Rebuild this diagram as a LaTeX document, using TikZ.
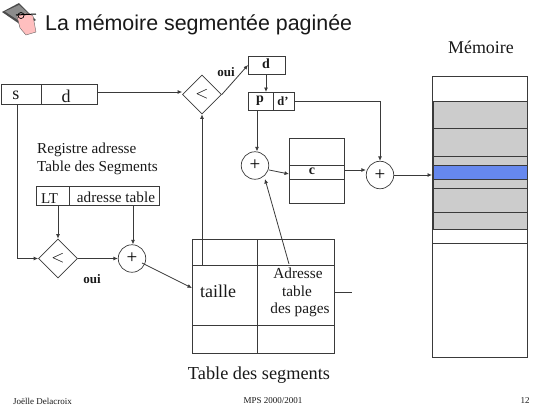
\documentclass[tikz,border=0pt]{standalone}
\usepackage{fontspec}
\setmainfont{Liberation Serif}
\newfontfamily\titlefont{Liberation Sans}
\usetikzlibrary{shapes.geometric,arrows.meta}
\newcommand{\fs}[1]{\fontsize{#1}{#1}\selectfont}
\definecolor{ln}{HTML}{3A3A3A}
\definecolor{grayfill}{HTML}{CCCCCC}
\definecolor{bluefill}{HTML}{6688EE}
\tikzset{
 cell/.style={draw=ln,line width=0.8pt,rectangle,minimum width=#1,inner sep=0pt,outer sep=0pt,anchor=north west},
 lbl/.style={inner sep=0pt,text=black!90},
 plusc/.style={draw=ln,line width=0.7pt,circle,minimum size=27.5pt,inner sep=0pt,font=\fs{19}},
 cmp/.style={draw=ln,line width=0.7pt,diamond,minimum width=39pt,minimum height=39pt,inner sep=0pt,font=\fs{18}},
 arr/.style={draw=ln,line width=0.8pt,-{Latex[length=4.5pt,width=4pt]}},
 lin/.style={draw=ln,line width=0.8pt},
}
\begin{document}
\begin{tikzpicture}[x=1pt,y=-1pt]
\useasboundingbox (0,0) rectangle (550,413);
% icon
\fill[black!70] (2,12) -- (19,3) -- (36,20) -- (24,27) -- cycle;
\fill[black!45] (5,11.5) -- (19,5) -- (32,17) -- (24,24) -- cycle;
\fill[red!25!white,draw=black!60,line width=0.4pt] (17,16) .. controls (19,13) and (30,12) .. (33,16) -- (36,32) -- (26,35) -- (20,28) -- cycle;
\draw[black,line width=1pt] (16,15) -- (36,14);
\draw[black,line width=0.7pt] (21,15.5) circle (3);
% title
\node[lbl,anchor=west,font=\titlefont\fs{21.4}] (title) at (45,25) {La mémoire segmentée paginée};
\node[lbl,font=\fs{17.9}] (memt) at (481,47) {Mémoire};
% memory
\node[cell=95pt,minimum height=281pt] (mem) at (432,76) {};
\fill[grayfill] (434,101) rectangle (527,229);
\draw[lin,draw=ln,line width=1.4pt] (433,101) -- (433,229);
\fill[bluefill] (434,165) rectangle (527,179);
\draw[lin] (mem.north east) -- (mem.south east);
\foreach \yy in {101,128.5,156,165,179,188,212,229,243}{\draw[lin] (432,\yy) -- (527,\yy);}
% register s d
\node[cell=40pt,minimum height=20pt] (s) at (1,84) {};
\node[cell=56pt,minimum height=20pt] (d) at (41,84) {};
\node[lbl,font=\fs{18}] at (16,95.5) {s};
\node[lbl,font=\fs{18}] at (66,96) {d};
% comparators
\node[cmp] (cmpa) at (202,94.5) {$<$};
\node[cmp] (cmpb) at (58,258.5) {$<$};
% d box
\node[cell=37pt,minimum height=18pt] (dtop) at (248,56) {};
\node[lbl,font=\fs{14}\bfseries] at (266,64) {d};
\node[cell=25pt,minimum height=18pt] (p) at (248,92) {};
\node[cell=21pt,minimum height=18pt] (dp) at (273,92) {};
\node[lbl,font=\fs{14}\bfseries] at (260,101) {p};
\node[lbl,font=\fs{12.5}\bfseries] at (283,101.5) {d\symbol{39}};
\node[lbl,font=\fs{13}\bfseries] at (226,72) {oui};
% pluses
\node[plusc] (pa) at (255,165.5) {+};
\node[plusc] (pb) at (380,175) {+};
\node[plusc] (pc) at (132,258.5) {+};
% page table
\node[cell=55pt,minimum height=65pt] (pt) at (289,138) {};
\node[cell=55pt,minimum height=14pt] (ptc) at (289,165) {};
\node[lbl,font=\fs{14}\bfseries] at (312,171) {c};
% registre
\node[lbl,anchor=west,font=\fs{15.2}] at (37,150) {Registre adresse};
\node[lbl,anchor=west,font=\fs{15.2}] at (37,168) {Table des Segments};
\node[cell=33pt,minimum height=19pt] (lt) at (36,186) {};
\node[cell=90pt,minimum height=19pt] (at) at (69,186) {};
\node[lbl,font=\fs{15}] at (49.5,199) {LT};
\node[lbl,font=\fs{15.2}] at (116,197) {adresse table};
\node[lbl,font=\fs{13}\bfseries] at (92,279) {oui};
% segment table
\node[cell=142pt,minimum height=114pt] (seg) at (192,239) {};
\coordinate (r1a) at (192,265); \coordinate (r1b) at (334,265);
\coordinate (r2a) at (192,325); \coordinate (r2b) at (334,325);
\coordinate (vt) at (257,239); \coordinate (vb) at (257,353);
\draw[lin] (r1a) -- (r1b);
\draw[lin] (r2a) -- (r2b);
\draw[lin] (vt) -- (vb);
\node[lbl,font=\fs{18}] at (218,291) {taille};
\node[lbl,font=\fs{15.3}] (adr) at (298,273) {Adresse};
\node[lbl,font=\fs{15.3}] at (297,291) {table};
\node[lbl,font=\fs{15.3}] at (300,310) {des pages};
\node[lbl,font=\fs{18.3}] at (259,375) {Table des segments};
\coordinate (stub) at (352,292);
\coordinate (stubs) at (334,292);
\draw[lin] (stubs) -- (stub);
% footer
\node[lbl,anchor=west,font=\fs{9}] at (13,401) {Joëlle Delacroix};
\node[lbl,font=\fs{9}] at (273,401) {MPS 2000/2001};
\node[lbl,font=\fs{9}] at (525,401) {12};
% connectors
\draw[arr] (d.east |- 0,92) -- (cmpa.west |- 0,92);
\draw[arr] (cmpa.east) -- (dtop.west);
\draw[arr] (202,265) -- (cmpa.south);
\draw[arr] (dtop.south -| 266,0) -- (p.north -| 266,0);
\draw[arr] (p.south -| 257,0) -- (pa.north -| 257,0);
\draw[arr] (pa.east |- 0,170) -- (ptc.west |- 0,174);
\draw[arr] (289,264) -- (pa.south east |- 0,179);
\draw[arr] (dp.east) -| (pb.north);
\draw[arr] (ptc.east |- 0,170) -- (pb.west |- 0,170);
\draw[arr] (pb.east) -- (mem.west |- pb);
\draw[arr] (s.south -| 17,0) |- (cmpb.west);
\draw[arr] (lt.south -| 58,0) -- (cmpb.north);
\draw[arr] (at.south -| 133,0) -- (pc.north -| 133,0);
\draw[arr] (cmpb.east) -- (pc.west);
\draw[arr] (pc.south east |- 0,263) -- (seg.west |- 0,288);
\end{tikzpicture}
\end{document}
